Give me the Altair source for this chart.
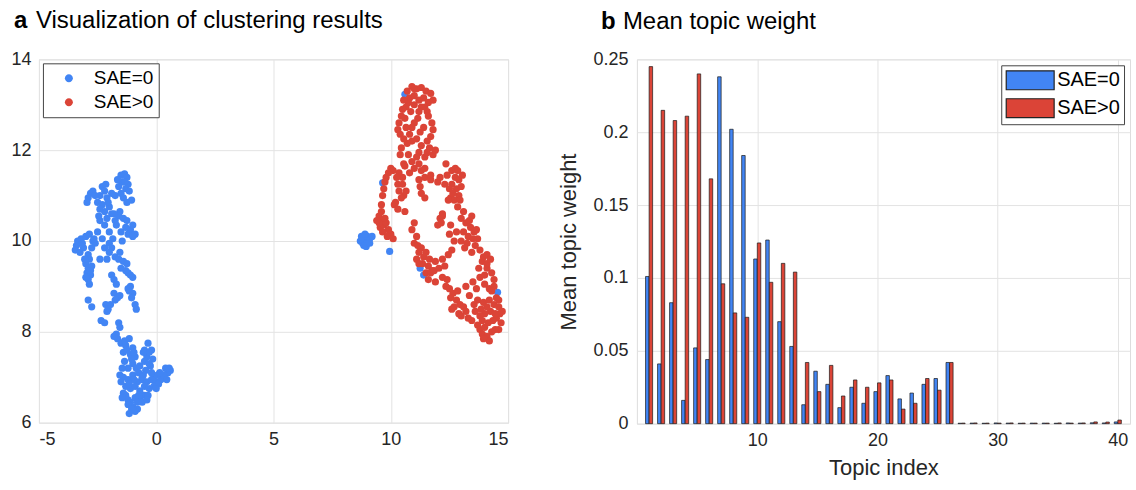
import altair as alt
import pandas as pd

FONT = "Liberation Sans"
BLUE = "#4285F4"
RED = "#DB4437"
TEXT = "#262626"

groups = ["SAE=0", "SAE>0"]

blue_points = [
    (-1.5, 11.45), (-1.35, 11.48), (-1.25, 11.4), (-1.45, 11.3), (-1.2, 11.25), (-1.6, 11.2), (-1.3, 11.15),
    (-1.15, 11.1), (-1.5, 11.05), (-1.75, 11.0), (-1.4, 10.95), (-1.25, 10.85), (-1.05, 10.9), (-1.65, 11.35),
    (-1.35, 11.3), (-2.8, 11.05), (-2.9, 10.95), (-2.7, 11.1), (-2.95, 10.85),
    (-2.3, 11.2), (-2.2, 11.1), (-2.4, 11.0), (-2.1, 10.95), (-2.5, 10.85), (-2.3, 10.8), (-2.0, 10.75),
    (-2.2, 10.65), (-1.9, 10.6), (-2.4, 10.7), (-2.15, 11.25), (-2.05, 10.85),
    (-1.6, 10.55), (-1.4, 10.5), (-1.25, 10.45), (-1.7, 10.35), (-1.3, 10.3), (-1.1, 10.25), (-1.5, 10.2),
    (-1.2, 10.15), (-0.9, 10.15), (-1.0, 10.1), (-1.45, 10.0), (-1.55, 10.65), (-1.8, 10.6),
    (-2.4, 10.45), (-2.2, 10.35), (-2.0, 10.2), (-2.3, 10.05), (-2.0, 9.95), (-1.9, 9.85), (-2.1, 10.5),
    (-2.5, 10.2), (-1.85, 10.05),
    (-3.3, 9.95), (-3.4, 9.9), (-3.2, 10.05), (-3.0, 10.1), (-2.85, 10.15), (-3.1, 9.85), (-2.7, 10.0),
    (-2.6, 9.95), (-3.35, 10.0), (-3.15, 9.95),
    (-2.9, 9.7), (-2.85, 9.6), (-3.0, 9.5), (-2.9, 9.4), (-2.95, 9.3), (-2.8, 9.25), (-2.9, 9.15),
    (-2.85, 9.05), (-2.75, 9.45), (-3.0, 9.2),
    (-2.2, 9.85), (-2.0, 9.75), (-1.75, 9.65), (-1.6, 9.6), (-1.4, 9.55), (-2.4, 9.6), (-1.5, 9.4),
    (-1.2, 9.3), (-1.1, 9.25), (-1.0, 9.2), (-1.3, 9.35), (-1.9, 9.25), (-1.8, 9.15), (-1.7, 9.05),
    (-1.1, 9.0), (-1.0, 8.85), (-1.05, 8.75), (-0.9, 8.6), (-1.15, 8.9), (-0.85, 8.5),
    (-1.8, 8.85), (-1.65, 8.75), (-1.55, 8.8), (-1.75, 8.7), (-2.9, 8.7), (-2.75, 8.55),
    (-2.15, 8.6), (-2.1, 8.45), (-2.05, 8.5), (-2.35, 8.25), (-2.2, 8.2), (-1.6, 8.2), (-1.55, 8.1),
    (-1.7, 7.95), (-1.65, 7.85), (-1.8, 7.9),
    (-1.5, 7.75), (-1.3, 7.7), (-1.0, 7.65), (-1.4, 7.55), (-1.1, 7.5), (-0.9, 7.45), (-1.35, 7.35),
    (-1.0, 7.3), (-1.2, 7.2), (-0.85, 7.2), (-1.25, 7.6), (-1.05, 7.4),
    (-0.35, 7.75), (-0.5, 7.6), (-0.2, 7.6), (-0.4, 7.45), (-0.15, 7.4), (-0.5, 7.35), (-0.25, 7.25),
    (-0.45, 7.15), (-0.3, 7.55),
    (0.4, 7.2), (0.6, 7.15), (0.5, 7.1), (0.35, 7.05), (0.55, 7.2),
    (-1.4, 7.0), (-1.2, 6.95), (-1.0, 7.05), (-0.8, 6.9), (-0.6, 6.95), (-0.4, 6.9), (-0.2, 6.95),
    (0.0, 6.9), (0.2, 6.95), (0.3, 7.05), (-1.3, 6.8), (-1.1, 6.75), (-0.9, 6.8), (-0.7, 6.7),
    (-0.5, 6.8), (-0.3, 6.75), (-0.1, 6.8), (0.1, 6.85), (-1.55, 7.05), (-0.75, 7.1), (-0.55, 7.05),
    (-0.95, 6.95), (-0.1, 7.0), (0.05, 7.05),
    (-1.3, 6.6), (-1.2, 6.5), (-1.1, 6.45), (-0.9, 6.55), (-0.7, 6.5), (-0.5, 6.6), (-0.6, 6.45),
    (-1.0, 6.35), (-0.8, 6.3), (-1.2, 6.4), (-0.9, 6.25), (-1.05, 6.3), (-0.65, 6.62),
    (-1.9, 11.05), (-2.6, 11.0), (-2.45, 10.55), (-1.75, 10.45), (-1.0, 10.35), (-2.65, 10.05),
    (-3.45, 9.8), (-3.25, 9.75), (-3.05, 9.6), (-2.75, 9.85), (-2.1, 9.6), (-1.25, 9.5), (-1.55, 9.75),
    (-2.8, 9.35), (-1.2, 8.95), (-1.95, 8.6), (-1.35, 7.8), (-1.15, 7.85), (-0.55, 7.55), (-0.3, 7.3),
    (-0.7, 7.25), (-1.45, 7.2), (-0.95, 7.55), (-0.6, 7.0), (-0.2, 7.1), (0.15, 7.1), (0.45, 6.95),
    (-1.5, 6.9), (-1.15, 6.85), (-0.35, 6.6), (-1.4, 6.65), (-0.75, 6.6), (-1.15, 6.2), (-0.8, 6.45),
    (-0.4, 6.5), (0.0, 6.75), (-1.45, 6.55),
    (8.7, 10.0), (8.8, 9.95), (8.9, 10.05), (9.0, 10.1), (9.1, 10.05), (8.85, 9.9), (9.0, 9.95),
    (8.75, 10.1), (9.2, 10.1), (8.9, 10.15), (8.95, 9.88), (9.1, 9.95),
    (9.95, 9.77), (9.65, 11.28), (10.6, 13.23), (11.25, 9.4), (11.4, 9.25), (14.55, 8.87),
]

red_points = [
    (10.7, 13.3), (10.9, 13.4), (11.1, 13.35), (11.3, 13.38), (11.5, 13.3), (11.7, 13.25), (10.8, 13.15),
    (11.0, 13.2), (11.2, 13.1), (11.4, 13.15), (11.6, 13.05), (11.8, 13.1), (10.65, 12.95), (11.3, 12.95),
    (11.55, 12.85), (11.0, 13.35), (10.75, 13.05),
    (10.5, 12.9), (10.45, 12.75), (10.35, 12.6), (10.3, 12.45), (10.4, 12.35), (10.6, 12.7),
    (10.85, 12.85), (11.0, 12.6), (11.15, 12.7), (10.9, 12.5),
    (11.6, 12.75), (11.75, 12.6), (11.8, 12.45), (11.7, 12.3),
    (10.65, 12.5), (10.8, 12.35), (10.9, 12.2), (10.7, 12.15), (11.1, 12.25), (11.3, 12.1), (11.2, 11.95),
    (11.55, 12.2), (11.65, 12.05), (11.8, 11.9), (11.9, 12.0),
    (10.75, 11.9), (10.9, 11.75), (11.0, 11.6), (10.6, 11.65), (11.2, 11.7), (11.3, 11.55), (11.45, 11.6),
    (10.8, 11.5), (10.5, 11.4), (10.4, 11.9), (10.55, 11.7), (10.35, 11.5), (11.1, 11.85),
    (10.0, 11.6), (10.1, 11.55), (9.8, 11.4), (9.75, 11.3), (9.9, 11.5), (9.7, 11.15), (9.65, 11.0),
    (10.3, 11.25), (10.35, 11.1), (10.2, 10.85), (10.15, 10.8), (10.55, 11.0), (10.6, 10.65),
    (10.5, 11.25), (10.65, 11.1), (10.3, 10.7), (9.6, 10.8),
    (9.5, 10.55), (9.6, 10.45), (9.7, 10.35), (9.8, 10.4), (9.55, 10.3), (9.9, 10.25), (10.0, 10.15),
    (9.65, 10.2), (9.85, 10.1), (9.5, 10.4), (9.75, 10.5),
    (11.25, 11.2), (11.45, 10.95), (11.3, 11.05), (11.2, 11.35),
    (11.45, 11.4), (11.7, 11.35), (12.0, 11.3), (12.3, 11.25), (11.7, 11.45), (12.1, 11.4),
    (12.35, 11.7), (12.6, 11.55), (12.75, 11.4), (12.9, 11.35), (12.6, 11.25), (12.8, 11.15), (12.9, 11.0),
    (12.7, 10.9), (13.0, 11.2), (12.55, 10.95), (12.85, 10.75), (12.75, 11.6), (12.95, 10.9),
    (12.1, 10.5), (12.0, 10.35), (12.2, 10.55), (12.2, 10.6), (12.15, 10.4),
    (10.9, 10.25), (11.1, 10.1), (11.0, 10.4),
    (11.0, 9.95), (11.3, 9.85), (11.5, 9.75), (11.2, 9.75),
    (11.1, 9.6), (11.35, 9.5), (11.6, 9.45), (11.9, 9.55), (11.75, 9.35), (12.2, 9.6), (11.5, 9.3),
    (12.5, 10.15), (12.7, 10.0), (12.6, 9.8), (12.45, 9.7),
    (13.0, 10.5), (13.2, 10.4), (13.4, 10.3), (13.1, 10.2), (13.3, 10.1), (13.5, 10.05), (13.0, 10.0),
    (13.25, 9.95), (13.6, 9.9), (13.15, 9.85), (13.7, 10.05), (13.45, 9.75), (13.35, 10.45), (13.55, 10.2),
    (13.9, 9.55), (14.1, 9.4),
    (11.2, 9.5), (11.7, 9.3), (11.6, 9.15), (11.9, 9.1), (11.85, 9.35),
    (12.35, 9.0), (12.5, 8.95), (12.65, 8.85), (12.55, 8.75), (12.8, 8.7), (12.95, 8.6), (13.1, 8.55),
    (12.7, 8.55), (12.9, 8.4), (13.2, 8.45), (12.4, 9.15), (12.2, 9.2),
    (12.6, 8.5), (13.0, 8.35), (13.3, 8.3), (13.45, 8.25),
    (13.5, 9.1), (13.8, 9.2), (14.0, 9.05), (14.2, 8.95), (14.4, 9.0), (13.65, 8.95),
    (14.1, 9.5), (14.3, 9.3), (14.4, 9.15), (14.0, 9.25), (13.95, 9.65),
    (13.7, 8.7), (13.95, 8.65), (14.2, 8.7), (14.4, 8.6), (14.6, 8.55), (14.65, 8.4), (14.5, 8.3),
    (14.25, 8.45), (14.0, 8.4), (13.8, 8.35), (14.7, 8.2), (14.35, 8.25), (14.5, 8.75), (14.1, 8.55),
    (13.85, 8.5), (14.6, 8.7),
    (13.7, 8.15), (13.8, 8.05), (13.9, 7.95), (14.1, 7.9), (14.2, 7.8), (14.0, 8.1), (13.95, 7.85),
    (11.0, 13.0), (11.2, 12.85), (11.45, 12.95), (10.55, 13.1), (11.4, 12.5), (11.25, 12.4),
    (10.55, 12.25), (10.45, 12.05), (11.45, 11.85), (11.55, 11.95), (10.25, 11.4), (10.45, 10.95),
    (9.6, 10.65), (9.4, 10.45), (10.1, 10.05), (12.4, 11.45), (12.5, 11.15), (12.65, 11.05),
    (13.05, 11.45), (12.85, 11.55), (12.45, 10.9), (11.15, 9.9), (11.4, 9.65), (11.65, 9.6),
    (12.05, 9.4), (12.3, 9.45), (12.8, 10.2), (12.55, 10.35), (13.1, 10.65), (13.45, 10.55),
    (13.65, 10.25), (13.8, 9.8), (13.2, 9.0), (13.35, 8.8), (13.55, 8.6), (12.85, 8.9),
    (14.3, 8.9), (14.75, 8.45), (14.45, 8.4), (14.15, 8.2), (14.3, 8.0), (13.9, 8.25), (13.6, 8.45),
    (14.1, 9.7), (14.25, 9.6), (13.75, 9.4), (14.45, 8.05), (14.6, 8.05),
]

topics = list(range(1, 41))
weight_sae0 = [
    0.101, 0.041, 0.083, 0.016, 0.052, 0.044, 0.238, 0.202, 0.184, 0.113,
    0.126, 0.070, 0.053, 0.013, 0.036, 0.027, 0.011, 0.025, 0.014, 0.022,
    0.033, 0.017, 0.021, 0.027, 0.031, 0.042, 0.0003, 0.0004, 0.0003, 0.0005,
    0.0004, 0.0003, 0.0004, 0.0004, 0.0003, 0.0005, 0.0004, 0.0006, 0.0005, 0.0012,
]
weight_sae1 = [
    0.245, 0.215, 0.208, 0.211, 0.240, 0.168, 0.096, 0.076, 0.073, 0.124,
    0.097, 0.110, 0.104, 0.042, 0.022, 0.040, 0.019, 0.030, 0.025, 0.028,
    0.030, 0.010, 0.014, 0.031, 0.023, 0.042, 0.0004, 0.0005, 0.0004, 0.0004,
    0.0005, 0.0004, 0.0004, 0.0004, 0.0005, 0.0004, 0.0005, 0.0012, 0.0011, 0.0025,
]

# ---------- tables ----------
scatter_rows = [{"x": x, "y": y, "group": groups[0]} for x, y in blue_points] + \
               [{"x": x, "y": y, "group": groups[1]} for x, y in red_points]
scatter_df = pd.DataFrame(scatter_rows)
scatter_df["order"] = range(len(scatter_df))

bar_df = pd.DataFrame(
    [{"topic": t, "weight": w, "series": groups[0]} for t, w in zip(topics, weight_sae0)] +
    [{"topic": t, "weight": w, "series": groups[1]} for t, w in zip(topics, weight_sae1)]
)

axis_style = dict(
    labelFont=FONT, labelFontSize=18, labelColor=TEXT,
    titleFont=FONT, titleFontSize=22, titleColor=TEXT, titleFontWeight="normal",
    gridColor="#e3e3e3", gridWidth=1, domain=False, ticks=False,
)

legend_style = dict(
    labelFont=FONT, labelColor="black",
    fillColor="white", strokeColor="#444444",
    rowPadding=4, symbolSize=400, symbolOpacity=1,
)

# ---------- panel a ----------
circle_path = "M0.7,0A0.4,0.4,0,1,1,1.5,0A0.4,0.4,0,1,1,0.7,0Z"

points = alt.Chart(scatter_df).mark_circle(size=52, opacity=1).encode(
    x=alt.X("x:Q", scale=alt.Scale(domain=[-5, 15], nice=False),
            axis=alt.Axis(values=[-5, 0, 5, 10, 15], title=None, labelPadding=8,
                          labelExpr="datum.value + ''", **axis_style)),
    y=alt.Y("y:Q", scale=alt.Scale(domain=[6, 14], nice=False, zero=False),
            axis=alt.Axis(values=[6, 8, 10, 12, 14], title=None, labelPadding=8, **axis_style)),
    color=alt.Color("group:N", scale=alt.Scale(domain=groups, range=[BLUE, RED]),
                    legend=alt.Legend(title=None, orient="top-left", offset=4, padding=5,
                                      labelFontSize=19, symbolType=circle_path, symbolStrokeWidth=0,
                                      labelOffset=26, **legend_style)),
    order="order:Q",
)

title_a_letter = alt.Chart(pd.DataFrame({"t": ["a"]})).mark_text(
    font=FONT, fontSize=24, fontWeight="bold", align="left", baseline="alphabetic", color="black"
).encode(x=alt.value(-25), y=alt.value(-31), text="t:N")
title_a_text = alt.Chart(pd.DataFrame({"t": ["Visualization of clustering results"]})).mark_text(
    font=FONT, fontSize=24, align="left", baseline="alphabetic", color="black"
).encode(x=alt.value(-3), y=alt.value(-31), text="t:N")

panel_a = alt.layer(points, title_a_letter, title_a_text).properties(width=470, height=364)

# ---------- panel b ----------
rect_path = "M-1,-0.95H3.8V0.95H-1Z"

x_b = alt.X("topic:Q", scale=alt.Scale(domain=[0.4, 40.6], nice=False),
            axis=alt.Axis(values=[10, 20, 30, 40], title="Topic index", titlePadding=8,
                          labelPadding=8, labelFlush=False, **axis_style))
y_b = alt.Y("weight:Q", scale=alt.Scale(domain=[0, 0.25], nice=False),
            axis=alt.Axis(values=[0, 0.05, 0.1, 0.15, 0.2, 0.25], format="~g", labelPadding=9,
                          title="Mean topic weight", titlePadding=12, **axis_style))
color_b = alt.Color("series:N", scale=alt.Scale(domain=groups, range=[BLUE, RED]),
                    legend=alt.Legend(title=None, orient="top-right", offset=6, padding=4,
                                      labelFontSize=20, symbolType=rect_path, symbolStrokeColor="#222222",
                                      symbolStrokeWidth=1.2, labelOffset=30, **legend_style))

bars_0 = alt.Chart(bar_df).transform_filter(alt.datum.series == groups[0]).mark_bar(
    size=3.5, xOffset=-1.8, stroke="#1a1a1a", strokeWidth=0.7
).encode(x=x_b, y=y_b, color=color_b)
bars_1 = alt.Chart(bar_df).transform_filter(alt.datum.series == groups[1]).mark_bar(
    size=3.5, xOffset=1.8, stroke="#1a1a1a", strokeWidth=0.7
).encode(x=x_b, y=y_b, color=color_b)

title_b_letter = alt.Chart(pd.DataFrame({"t": ["b"]})).mark_text(
    font=FONT, fontSize=24, fontWeight="bold", align="left", baseline="alphabetic", color="black"
).encode(x=alt.value(-36), y=alt.value(-30), text="t:N")
title_b_text = alt.Chart(pd.DataFrame({"t": ["Mean topic weight"]})).mark_text(
    font=FONT, fontSize=24, align="left", baseline="alphabetic", color="black"
).encode(x=alt.value(-14), y=alt.value(-30), text="t:N")

panel_b = alt.layer(bars_0, bars_1, title_b_letter, title_b_text).properties(width=494, height=365)

chart = alt.hconcat(panel_a, panel_b, spacing=48).resolve_scale(color="independent").resolve_legend(
    color="independent"
).properties(
    padding={"left": 10, "top": 8, "right": 5, "bottom": 5}
).configure_view(stroke="#262626", strokeWidth=1).configure(background="white")

chart.save("out.html", embed_options={"renderer": "svg", "actions": False})
